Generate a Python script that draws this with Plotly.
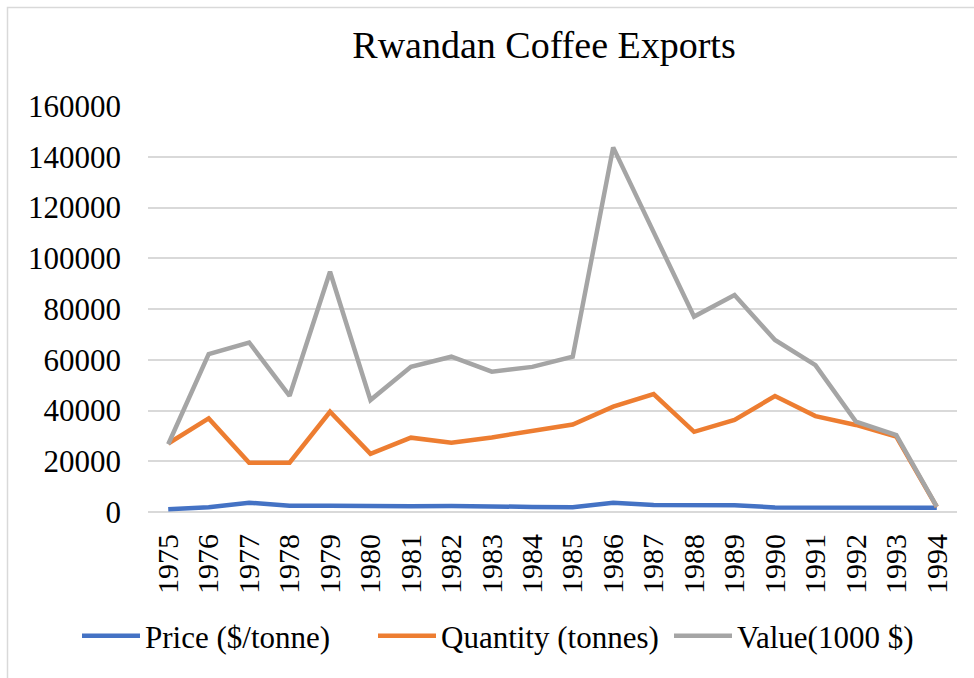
import plotly.graph_objects as go

# Rwandan coffee exports, 1975-1994
years = [str(y) for y in range(1975, 1995)]
price = [1050, 1850, 3650, 2500, 2500, 2250, 2250, 2400, 2000, 2000,
         1900, 3650, 2750, 2750, 2700, 1800, 1800, 1450, 1450, 1700]
quantity = [27000, 36900, 19400, 19400, 39500, 22900, 29300, 27300, 29400, 31800,
            34500, 41500, 46500, 31600, 36300, 45700, 37800, 34300, 29700, 2000]
value = [26700, 62200, 66800, 45800, 94700, 44100, 57200, 61200, 55300, 57200,
         61200, 143700, 110300, 77000, 85500, 67800, 57900, 35600, 30300, 2100]

series = [
    ("Price ($/tonne)", price, "#4472C4"),
    ("Quantity (tonnes)", quantity, "#ED7D31"),
    ("Value(1000 $)", value, "#A5A5A5"),
]

W, H = 974, 678
ML, MR, MT, MB = 148, 17, 106, 166
PW, PH = W - ML - MR, H - MT - MB

FONT = "Times New Roman, Liberation Serif, DejaVu Serif, serif"
GRID = "#d9d9d9"

fig = go.Figure()
for name, vals, color in series:
    fig.add_trace(go.Scatter(
        x=years, y=vals, name=name, mode="lines",
        line=dict(color=color, width=4.5),
    ))

# outer chart frame
fig.add_shape(
    type="rect", xref="paper", yref="paper",
    x0=(7.5 - ML) / PW, x1=(W + 20 - ML) / PW,
    y0=-(H + 20 - (H - MB)) / PH, y1=(H - MB - 7.5) / PH,
    line=dict(color=GRID, width=1.5), fillcolor="rgba(0,0,0,0)",
)

fig.update_layout(
    width=W, height=H,
    margin=dict(l=ML, r=MR, t=MT, b=MB, autoexpand=False),
    paper_bgcolor="white", plot_bgcolor="white",
    font=dict(family=FONT, color="black", size=31),
    title=dict(
        text="Rwandan Coffee Exports",
        font=dict(family=FONT, size=38, color="black"),
        xref="paper", x=(544 - ML) / PW, xanchor="center",
        yref="container", y=1 - 45 / H, yanchor="middle",
    ),
    xaxis=dict(
        type="category", tickangle=-90, automargin=False,
        range=[-0.5, len(years) - 0.5],
        showgrid=False, showline=False, ticks="",
        tickfont=dict(family=FONT, size=30), ticklabelstandoff=15,
    ),
    yaxis=dict(
        range=[0, 160000], dtick=20000, tickformat="d", automargin=False,
        showgrid=True, gridcolor=GRID, gridwidth=1.5,
        zeroline=True, zerolinecolor=GRID, zerolinewidth=1.5,
        showline=False, ticks="",
        tickfont=dict(family=FONT, size=31), ticklabelstandoff=26,
    ),
    legend=dict(
        orientation="h",
        xref="paper", x=(77 - ML) / PW, xanchor="left",
        yref="paper", y=(H - MB - 636) / PH, yanchor="middle",
        font=dict(family=FONT, size=31), itemwidth=58,
        entrywidth=223, entrywidthmode="pixels",
        bgcolor="rgba(0,0,0,0)",
    ),
    showlegend=True,
)

fig.write_html("out.html")
